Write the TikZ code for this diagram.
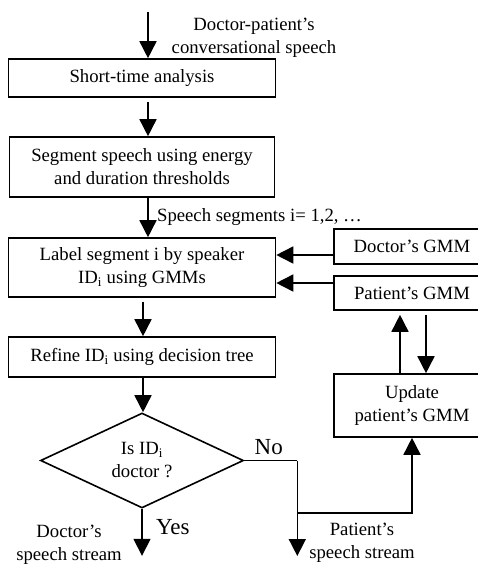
\documentclass[tikz,border=0pt]{standalone}
\usepackage{fontspec}
\setmainfont{Liberation Serif}
\usepackage{tikz}
\usetikzlibrary{shapes,arrows,arrows.meta}
\usetikzlibrary{positioning}
\tikzstyle{arrow} = [-{Triangle[width=17pt,length=17pt]}, line width=1.6pt]
\tikzstyle{line} = [draw, line width=1.6pt]
\tikzstyle{process} = [rectangle, draw, line width=1.6pt, minimum width=267pt,
   inner sep=0pt, align=center]
\tikzstyle{decision} = [diamond, draw, line width=1.6pt, minimum width=203pt,
   minimum height=95pt, aspect=2.14, inner sep=0pt, align=center]
\newcommand{\idi}{ID\textsubscript{i}}

\begin{document}
\begin{tikzpicture}[x=1pt, y=1pt, node distance=89pt,
   every node/.style={font=\fontsize{18.7}{23}\selectfont}]
\useasboundingbox (0,0) rectangle (477,-567);

\coordinate (speechin) at (148,-12);
\node (analysis) [process, minimum height=38pt] at (142,-78) {Short-time analysis};
\node (input) [align=center] at (254,-38) {Doctor-patient’s\\ conversational speech};
\draw [arrow] (speechin) -- ([xshift=6pt]analysis.north);

\node (segment) [process, below of=analysis, minimum width=265pt, minimum height=60pt] {Segment speech using energy\\ and duration thresholds};
\draw [arrow, shorten <=4pt] ([xshift=6pt]analysis.south) -- ([xshift=6pt]segment.north);

\node (labelseg) [process, node distance=100.5pt, below of=segment, minimum height=59pt] {Label segment i by speaker\\ \idi{} using GMMs};
\draw [arrow] ([xshift=6pt]segment.south) -- node [right, xshift=5pt] {Speech segments i= 1,2, …} ([xshift=6pt]labelseg.north);

\node (refine) [process, node distance=89.5pt, below of=labelseg, minimum height=40pt] {Refine \idi{} using decision tree};
\draw [arrow, shorten <=4pt] ([xshift=1pt]labelseg.south) -- ([xshift=1pt]refine.north);

\node (isdoc) [decision, node distance=103.5pt, below of=refine] {Is \idi\\ doctor ?};
\draw [arrow] ([xshift=1pt]refine.south) -- ([xshift=1pt]isdoc.north);

% GMMs on the right
\node (docgmm) [process, node distance=270pt, right of=labelseg, yshift=21pt, minimum width=156pt, minimum height=35pt] {Doctor’s GMM};
\node (patgmm) [process, node distance=46.5pt, below of=docgmm, minimum width=156pt, minimum height=34pt] {Patient’s GMM};
\node (update) [process, node distance=112.5pt, below of=patgmm, minimum width=156pt, minimum height=63pt] {Update\\ patient’s GMM};

\draw [arrow] ([yshift=-8.5pt]docgmm.west) -- ([yshift=-8.5pt]docgmm.west -| labelseg.east);
\draw [arrow] ([yshift=10pt]patgmm.west) -- ([yshift=10pt]patgmm.west -| labelseg.east);
\draw [arrow, shorten >=4pt] ([xshift=-12pt]update.north) -- ([xshift=-12pt]patgmm.south);
\draw [arrow, shorten <=4pt] ([xshift=14pt]patgmm.south) -- ([xshift=14pt]update.north);

% outputs
\coordinate (docout) at ([yshift=-47pt]isdoc.south);
\draw [arrow] (isdoc.south) -- node [right, xshift=10pt, yshift=5pt, font=\fontsize{23}{27}\selectfont] {Yes} (docout);
\node (docstream) [align=center, anchor=south, inner sep=1pt] at (69,-566) {Doctor’s\\ speech stream};

\coordinate (nocorner) at ([xshift=53pt]isdoc.east);
\coordinate (patout) at (nocorner |- 0,-556);
\coordinate (branch) at (nocorner |- 0,-513);
\draw [line] (isdoc.east) -- node [above, inner sep=4.5pt, xshift=-2pt, font=\fontsize{23}{27}\selectfont] {No} (nocorner);
\draw [arrow] (nocorner) -- (patout);
\draw [arrow] (branch) -| (update.south);
\node (patstream) [align=center] at (362,-543) {Patient’s\\ speech stream};

\end{tikzpicture}
\end{document}
